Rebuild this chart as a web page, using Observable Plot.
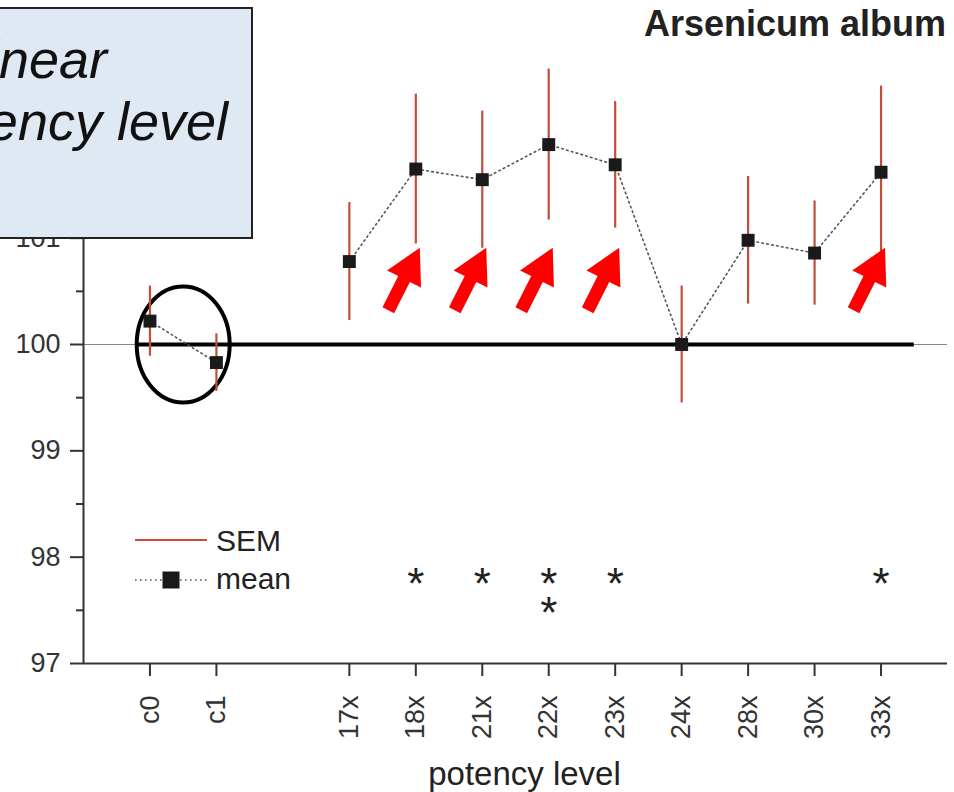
<!DOCTYPE html>
<html>
<head>
<meta charset="utf-8">
<script src="https://cdn.jsdelivr.net/npm/d3@7"></script>
<script src="https://cdn.jsdelivr.net/npm/@observablehq/plot@0.6"></script>
<style>
  body { margin: 0; background: #fff; font-family: "Liberation Sans", Arial, sans-serif; }
  #wrap { position: relative; width: 954px; height: 792px; overflow: hidden; background: #fff; }
  #wrap > svg { position: absolute; left: 0; top: 0; }
  .abs { position: absolute; white-space: nowrap; line-height: 1; }
  #title { right: 8px; top: 6px; font-size: 36px; font-weight: bold; color: #222; }
  #box { left: -20px; top: 7px; width: 273px; height: 232px; box-sizing: border-box;
         border: 2px solid #222; background: #dfe9f4; }
  .boxline { font-size: 54px; font-style: italic; color: #111; }
  .legtext { font-size: 30px; color: #222; }
</style>
</head>
<body>
<div id="wrap"></div>
<script>
// ---- data ----
const slots  = ["c0", "c1", null, "17x", "18x", "21x", "22x", "23x", "24x", "28x", "30x", "33x"];
const levels = ["c0", "c1", "17x", "18x", "21x", "22x", "23x", "24x", "28x", "30x", "33x"];
const groups = ["control", "control", "potency", "potency", "potency", "potency", "potency", "potency", "potency", "potency", "potency"];
const means  = [100.22, 99.83, 100.78, 101.65, 101.55, 101.88, 101.69, 100.00, 100.98, 100.86, 101.62];
const sems   = [0.33, 0.27, 0.555, 0.705, 0.645, 0.71, 0.595, 0.55, 0.60, 0.49, 0.81];
const stars  = [0, 0, 0, 1, 1, 2, 1, 0, 0, 0, 1];
const yTicks = [97, 98, 99, 100, 101];
const yMinor = [97.5, 98.5, 99.5, 100.5, 101.5, 102.5];

const pos = (lvl) => slots.indexOf(lvl) + 1;
const data = levels.map((l, i) => ({level: l, pos: pos(l), group: groups[i], mean: means[i], sem: sems[i], stars: stars[i]}));
const sig = data.filter(d => d.stars > 0);

// custom symbols
const arrowSymbol = {
  draw(ctx) {
    const ux = -0.45, uy = 0.893, px = 0.893, py = 0.45, tx = 4, ty = 0;
    const pt = (a, b) => [tx + a * ux + b * px, ty + a * uy + b * py];
    const pts = [pt(0, 0), pt(35, 19), pt(35, 6.5), pt(70, 6.5), pt(70, -6.5), pt(35, -6.5), pt(35, -19)];
    ctx.moveTo(pts[0][0], pts[0][1]);
    for (const p of pts.slice(1)) ctx.lineTo(p[0], p[1]);
    ctx.closePath();
  }
};
const ellipseSymbol = {
  draw(ctx) {
    const k = 0.5523, a = 46.5, b = 58;
    ctx.moveTo(a, 0);
    ctx.bezierCurveTo(a, k * b, k * a, b, 0, b);
    ctx.bezierCurveTo(-k * a, b, -a, k * b, -a, 0);
    ctx.bezierCurveTo(-a, -k * b, -k * a, -b, 0, -b);
    ctx.bezierCurveTo(k * a, -b, a, -k * b, a, 0);
    ctx.closePath();
  }
};

const chart = Plot.plot({
  width: 954,
  height: 792,
  marginLeft: 83,
  marginRight: 7,
  marginTop: 25,
  marginBottom: 129,
  style: {fontFamily: "Liberation Sans, Arial, sans-serif", background: "transparent", color: "#333"},
  x: {type: "linear", domain: [0, slots.length + 1], label: null},
  y: {domain: [97, 103], label: null},
  marks: [
    Plot.ruleY([100], {stroke: "#888", strokeWidth: 1}),
    Plot.ruleY([100], {x1: 0.8, x2: 12.5, stroke: "#000", strokeWidth: 4}),
    Plot.dot([{x: (pos("c0") + pos("c1")) / 2, y: 100}], {x: "x", y: "y", r: 1, symbol: ellipseSymbol, stroke: "#000", strokeWidth: 4, fill: "none"}),
    Plot.ruleX(data, {x: "pos", y1: d => d.mean - d.sem, y2: d => d.mean + d.sem, stroke: "#c44d36", strokeWidth: 2.2}),
    Plot.line(data, {x: "pos", y: "mean", z: "group", stroke: "#555", strokeWidth: 1.6, strokeDasharray: "1.6,3.4"}),
    Plot.dot(data, {x: "pos", y: "mean", symbol: "square", r: 7.3, fill: "#1a1a1a", stroke: "none"}),
    Plot.dot(sig, {x: "pos", y: 100.91, r: 1, symbol: arrowSymbol, fill: "#ff0000", stroke: "none"}),
    Plot.text(sig, {x: "pos", y: 97.8, text: d => Array(d.stars).fill("*").join("\n"), lineAnchor: "top", lineHeight: 0.66, fontSize: 44, dy: 0, fill: "#222"}),
    Plot.ruleX([0], {stroke: "#333", strokeWidth: 2}),
    Plot.ruleY([97], {stroke: "#333", strokeWidth: 2}),
    Plot.axisY({ticks: yTicks, tickSize: 13, tickPadding: 10, fontSize: 27, strokeWidth: 2, tickFormat: d => d, label: null}),
    Plot.axisY({ticks: yMinor, tickSize: 7, strokeWidth: 2, tickFormat: () => "", label: null}),
    Plot.axisX({ticks: levels.map(pos), tickFormat: p => slots[p - 1], tickRotate: -90, tickSize: 13, tickPadding: 19, fontSize: 27, strokeWidth: 2, label: null}),
    Plot.text(["potency level"], {frameAnchor: "bottom", dy: 121, dx: 9, fontSize: 33, lineAnchor: "bottom", fill: "#222"})
  ]
});

const wrap = document.getElementById("wrap");
wrap.appendChild(chart);
wrap.insertAdjacentHTML("beforeend", `
  <div id="title" class="abs">Arsenicum album</div>
  <div id="box" class="abs"></div>
  <div class="abs boxline" style="right:847px; top:32.3px;">non-linear</div>
  <div class="abs boxline" style="right:726px; top:94.3px;">with potency level</div>
  <svg class="abs" style="left:130px; top:525px;" width="85" height="70">
    <line x1="5" x2="77" y1="15" y2="15" stroke="#d04a30" stroke-width="2"></line>
    <line x1="5" x2="77" y1="55" y2="55" stroke="#555" stroke-width="1.6" stroke-dasharray="1.6,3.4"></line>
    <rect x="32.5" y="46.5" width="17" height="17" fill="#1a1a1a"></rect>
  </svg>
  <div class="abs legtext" style="left:216px; top:525.6px;">SEM</div>
  <div class="abs legtext" style="left:216px; top:563.6px;">mean</div>
`);
</script>
</body>
</html>
